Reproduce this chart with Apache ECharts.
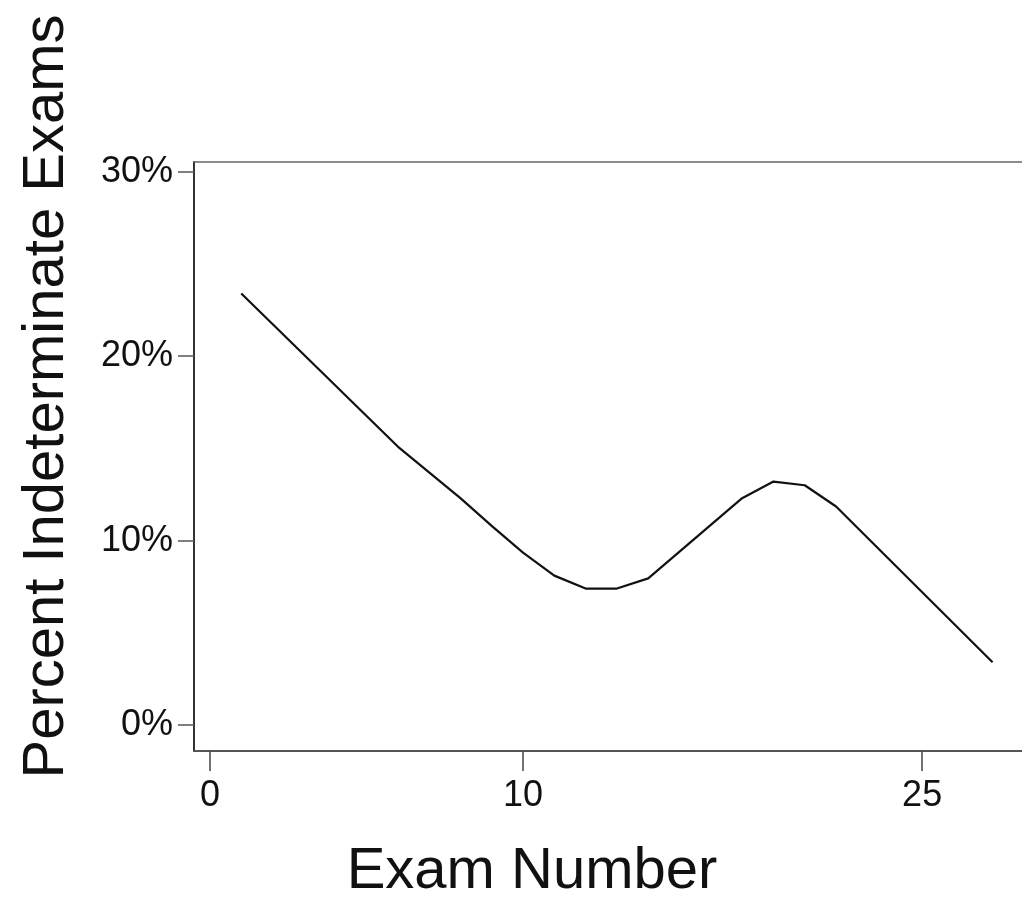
<!DOCTYPE html>
<html>
<head>
<meta charset="utf-8">
<style>
  html, body { margin: 0; padding: 0; background: #ffffff; }
  #chart { width: 1022px; height: 897px; }
</style>
<script src="https://cdn.jsdelivr.net/npm/echarts@6/dist/echarts.min.js"></script>
</head>
<body>
<div id="chart"></div>
<script>
// ---- data ----
const examNumbers = [1, 6, 7, 8, 9, 10, 11, 12, 13, 14, 15, 16, 17, 18, 19, 20, 25];
const percentIndeterminate = [23.4, 15.1, 13.7, 12.3, 10.8, 9.35, 8.1, 7.4, 7.4, 7.95, 9.4, 10.85, 12.3, 13.2, 13.0, 11.85, 3.4];
const xTickPositions = [0, 10, 22.75];
const xTickLabels = ['0', '10', '25'];
const yTickValues = [0, 10, 20, 30];
const xAxisTitle = 'Exam Number';
const yAxisTitle = 'Percent Indeterminate Exams';

const seriesData = examNumbers.map((x, i) => [x, percentIndeterminate[i]]);

const chart = echarts.init(document.getElementById('chart'), null, { renderer: 'canvas' });
const FONT = '"Liberation Sans", Arial, sans-serif';

chart.setOption({
  animation: false,
  backgroundColor: '#ffffff',
  grid: {
    left: 194, top: 162, right: 0, bottom: 146,
    containLabel: false,
    outerBoundsMode: 'none'
  },
  xAxis: [
    {
      type: 'value',
      position: 'bottom',
      min: -0.51,
      max: 25.94,
      splitLine: { show: false },
      axisLine: { show: true, onZero: false, lineStyle: { color: '#555555', width: 2 } },
      axisTick: {
        show: true, length: 20, inside: false,
        customValues: xTickPositions,
        lineStyle: { color: '#444444', width: 1.5 }
      },
      axisLabel: {
        show: true, margin: 27,
        customValues: xTickPositions,
        formatter: function (v) {
          const idx = xTickPositions.findIndex(p => Math.abs(p - v) < 1e-6);
          return idx >= 0 ? xTickLabels[idx] : '';
        },
        color: '#111111', fontFamily: FONT, fontSize: 36
      },
      name: xAxisTitle,
      nameLocation: 'middle',
      nameGap: 92,
      nameTextStyle: {
        color: '#111111', fontFamily: FONT, fontSize: 58,
        padding: [0, 152, 0, 0]
      }
    },
    {
      type: 'value',
      position: 'top',
      min: -0.51,
      max: 25.94,
      splitLine: { show: false },
      axisLine: { show: true, onZero: false, lineStyle: { color: '#666666', width: 1.5 } },
      axisTick: { show: false },
      axisLabel: { show: false }
    }
  ],
  yAxis: {
    type: 'value',
    min: -1.41,
    max: 30.53,
    splitLine: { show: false },
    axisLine: { show: true, onZero: false, lineStyle: { color: '#333333', width: 2 } },
    axisTick: {
      show: true, length: 16, inside: false,
      customValues: yTickValues,
      lineStyle: { color: '#555555', width: 1.5 }
    },
    axisLabel: {
      show: true, margin: 21,
      customValues: yTickValues,
      formatter: function (v) { return v + '%'; },
      color: '#111111', fontFamily: FONT, fontSize: 36
    },
    name: yAxisTitle,
    nameLocation: 'middle',
    nameGap: 118,
    nameTextStyle: {
      color: '#111111', fontFamily: FONT, fontSize: 58,
      padding: [0, 0, 0, 120]
    }
  },
  series: [
    {
      type: 'line',
      xAxisIndex: 0,
      data: seriesData,
      showSymbol: false,
      smooth: false,
      lineStyle: { color: '#111111', width: 2.2 }
    }
  ]
});
</script>
</body>
</html>
